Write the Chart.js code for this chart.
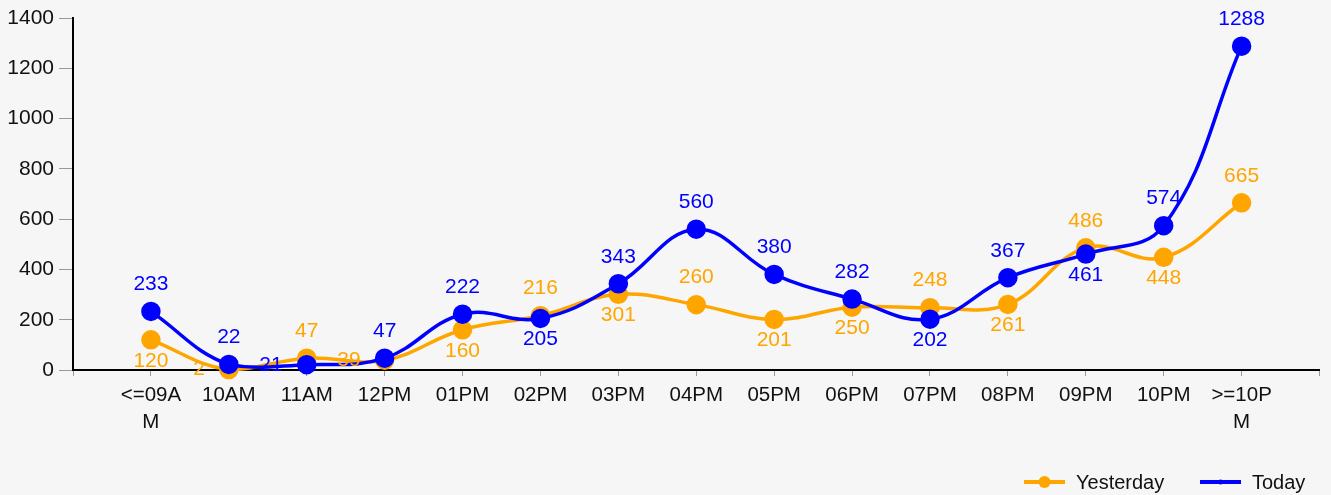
<!DOCTYPE html>
<html lang="en">
<head>
    <meta charset="UTF-8">
    <title>Yesterday vs Today</title>
    <script src="https://cdn.jsdelivr.net/npm/chart.js"></script>
    <style>
        body { margin: 0; background: #f6f6f6; }
        #wrap { width: 1331px; height: 495px; position: relative; }
    </style>
</head>
<body>
    <div id="wrap"><canvas id="hourChart"></canvas></div>

    <script>
        // categories and values
        const hours = ['<=09AM', '10AM', '11AM', '12PM', '01PM', '02PM', '03PM', '04PM', '05PM', '06PM', '07PM', '08PM', '09PM', '10PM', '>=10PM'];
        const yesterday = [120, 2, 47, 39, 160, 216, 301, 260, 201, 250, 248, 261, 486, 448, 665];
        const today = [233, 22, 21, 47, 222, 205, 343, 560, 380, 282, 202, 367, 461, 574, 1288];
        const yTicks = [0, 200, 400, 600, 800, 1000, 1200, 1400];

        const ORANGE = '#ffa500';
        const BLUE = '#0000ff';
        const FONT = '"Liberation Sans", Arial, sans-serif';

        function toPoints(arr) {
            return arr.map((v, i) => ({ x: i, y: v }));
        }

        // value labels: above the point, the lower one goes below when the two are close
        const valueLabels = {
            id: 'valueLabels',
            afterDatasetsDraw(chart) {
                const ctx = chart.ctx;
                const area = chart.chartArea;
                const metas = chart.data.datasets.map((d, i) => chart.getDatasetMeta(i));
                ctx.save();
                ctx.font = '21px ' + FONT;
                ctx.textBaseline = 'middle';
                chart.data.datasets.forEach((ds, di) => {
                    const other = chart.data.datasets[1 - di];
                    metas[di].data.forEach((pt, i) => {
                        const v = ds.data[i].y;
                        const ov = other.data[i].y;
                        const otherPt = metas[1 - di].data[i];
                        let below = v < ov && Math.abs(pt.y - otherPt.y) < 60;
                        let x = pt.x, y = pt.y - 27;
                        ctx.textAlign = 'center';
                        if (below) {
                            y = pt.y + 21;
                            if (pt.y > area.bottom - 27) {
                                ctx.textAlign = 'right';
                                x = pt.x - 24;
                                y = pt.y;
                            }
                        }
                        ctx.fillStyle = ds.borderColor;
                        ctx.fillText(String(v), x, y);
                    });
                });
                ctx.restore();
            }
        };

        // legend at the bottom right: line with marker and name
        const bottomLegend = {
            id: 'bottomLegend',
            afterDraw(chart) {
                const ctx = chart.ctx;
                const items = [
                    { text: 'Yesterday', color: ORANGE, x: 1024, dot: 6 },
                    { text: 'Today', color: BLUE, x: 1200, dot: 2.5 }
                ];
                const y = 482;
                ctx.save();
                ctx.font = '20px ' + FONT;
                ctx.textBaseline = 'middle';
                ctx.textAlign = 'left';
                items.forEach(it => {
                    ctx.strokeStyle = it.color;
                    ctx.lineWidth = 4;
                    ctx.beginPath();
                    ctx.moveTo(it.x, y);
                    ctx.lineTo(it.x + 41, y);
                    ctx.stroke();
                    ctx.fillStyle = it.color;
                    ctx.beginPath();
                    ctx.arc(it.x + 20.5, y, it.dot, 0, Math.PI * 2);
                    ctx.fill();
                    ctx.fillStyle = '#111';
                    ctx.fillText(it.text, it.x + 52, y + 1);
                });
                ctx.restore();
            }
        };

        new Chart(document.getElementById('hourChart'), {
            type: 'line',
            data: {
                datasets: [
                    {
                        label: 'Yesterday',
                        data: toPoints(yesterday),
                        borderColor: ORANGE,
                        backgroundColor: ORANGE,
                        borderWidth: 3.5,
                        pointRadius: 8,
                        pointHoverRadius: 8,
                        tension: 0.4,
                        order: 1
                    },
                    {
                        label: 'Today',
                        data: toPoints(today),
                        borderColor: BLUE,
                        backgroundColor: BLUE,
                        borderWidth: 3.5,
                        pointRadius: 8,
                        pointHoverRadius: 8,
                        tension: 0.4,
                        order: 0
                    }
                ]
            },
            options: {
                responsive: true,
                maintainAspectRatio: false,
                animation: false,
                clip: false,
                layout: { padding: { top: 18, right: 4, left: 0, bottom: 0 } },
                plugins: {
                    legend: { display: false },
                    tooltip: { enabled: false }
                },
                scales: {
                    x: {
                        type: 'linear',
                        min: -1,
                        max: 15,
                        afterFit(scale) { scale.height = 125; },
                        afterBuildTicks(scale) {
                            const t = [];
                            for (let i = -1; i <= hours.length; i++) t.push({ value: i });
                            scale.ticks = t;
                        },
                        ticks: {
                            autoSkip: false,
                            maxRotation: 0,
                            padding: 6,
                            color: '#111',
                            font: { family: FONT, size: 20.5, lineHeight: 1.3 },
                            callback(value) {
                                const s = hours[value];
                                if (!s) return '';
                                return s.length > 5 ? [s.slice(0, 5), s.slice(5)] : s;
                            }
                        },
                        grid: { drawOnChartArea: false, drawTicks: true, tickLength: 6, color: '#999' },
                        border: { display: true, color: '#000', width: 2 }
                    },
                    y: {
                        min: 0,
                        max: 1400,
                        afterFit(scale) { scale.width = 73; },
                        afterBuildTicks(scale) {
                            scale.ticks = yTicks.map(v => ({ value: v }));
                        },
                        ticks: {
                            padding: 5,
                            color: '#111',
                            font: { family: FONT, size: 21 },
                            callback(value) { return String(value); }
                        },
                        grid: { drawOnChartArea: false, drawTicks: true, tickLength: 14, color: '#999' },
                        border: { display: true, color: '#000', width: 2 }
                    }
                }
            },
            plugins: [valueLabels, bottomLegend]
        });
    </script>
</body>
</html>
